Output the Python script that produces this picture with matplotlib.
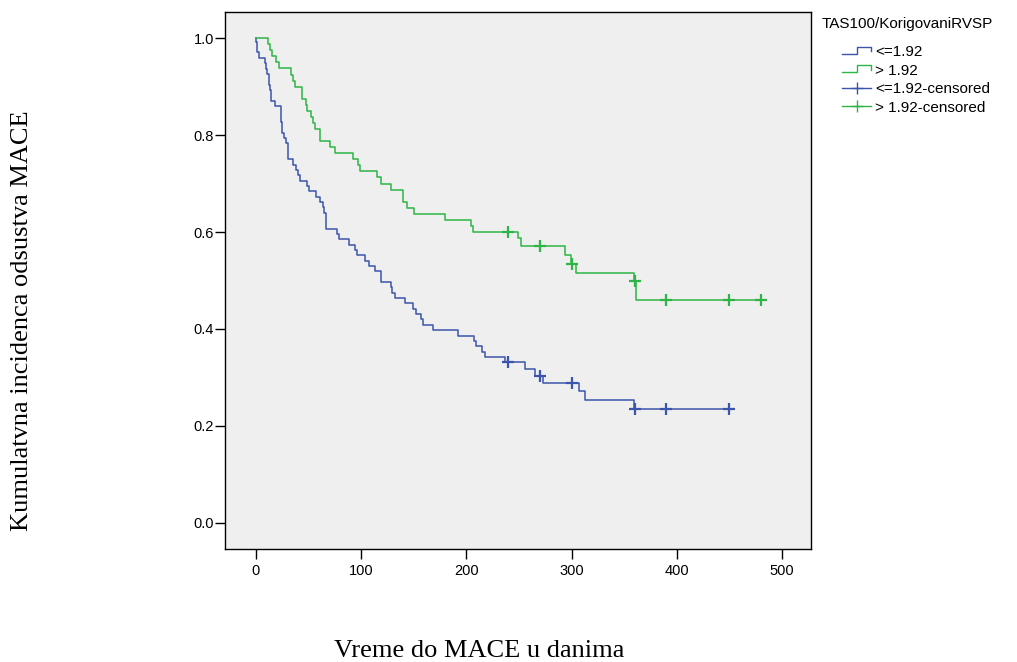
"""Kaplan-Meier style curves of cumulative MACE-free incidence by TAS100/RVSP group."""

import matplotlib
matplotlib.use("Agg")
import matplotlib.pyplot as plt
from matplotlib.legend_handler import HandlerBase
from matplotlib.lines import Line2D

plt.rcParams.update({"font.family": "Liberation Sans", "font.size": 10.5})

# group <=1.92: event times (days) and survival after each event
low_t = [0.3, 0.8, 2.5, 8.2, 9.5, 10.8, 12.0, 12.7, 13.3, 13.9,
         14.6, 18.4, 23.4, 24.7, 26.6, 28.5, 30.5, 35.5, 38.3, 40.0,
         42.0, 48.8, 50.7, 57.0, 60.8, 63.4, 64.6, 66.5, 76.7, 78.6,
         88.7, 94.4, 96.3, 103.9, 107.7, 112.8, 119.1, 128.0, 129.3, 131.8,
         141.8, 149.0, 152.1, 156.8, 159.0, 168.0, 192.0, 207.2, 209.1, 214.8,
         217.4, 237.0, 256.0, 265.5, 272.5, 307.3, 312.4, 359.3]
low_s = [0.993, 0.971, 0.959, 0.948, 0.937, 0.926, 0.915, 0.904, 0.893, 0.882,
         0.871, 0.860, 0.827, 0.805, 0.793, 0.783, 0.750, 0.739, 0.728, 0.717,
         0.706, 0.695, 0.684, 0.673, 0.662, 0.651, 0.640, 0.607, 0.596, 0.585,
         0.574, 0.563, 0.552, 0.541, 0.530, 0.519, 0.497, 0.486, 0.475, 0.464,
         0.453, 0.442, 0.431, 0.420, 0.409, 0.398, 0.386, 0.375, 0.364, 0.353,
         0.342, 0.331, 0.317, 0.303, 0.289, 0.271, 0.253, 0.235]
low_cens_t = [240, 270, 300, 360, 390, 450]
low_cens_s = [0.331, 0.303, 0.289, 0.235, 0.235, 0.235]

# group > 1.92
high_t = [11.4, 13.3, 15.2, 19.0, 21.5, 33.6, 35.5, 36.8, 43.7, 47.5,
          48.8, 52.0, 54.5, 56.5, 60.5, 70.8, 75.4, 91.9, 97.0, 98.9,
          114.7, 118.5, 128.0, 140.0, 143.9, 150.2, 180.0, 204.1, 206.6, 249.0,
          252.0, 293.4, 299.1, 304.2, 359.6, 361.2]
high_s = [0.9875, 0.975, 0.9625, 0.950, 0.9375, 0.925, 0.9125, 0.900, 0.875, 0.8625,
          0.850, 0.8375, 0.825, 0.8125, 0.7875, 0.775, 0.7625, 0.750, 0.7375, 0.725,
          0.7125, 0.700, 0.6875, 0.6625, 0.650, 0.6375, 0.625, 0.6125, 0.600, 0.587,
          0.571, 0.553, 0.535, 0.516, 0.498, 0.459]
high_cens_t = [240, 270, 300, 360, 390, 450, 480]
high_cens_s = [0.600, 0.571, 0.535, 0.498, 0.459, 0.459, 0.459]

x_ticks = [0, 100, 200, 300, 400, 500]
y_ticks = [0.0, 0.2, 0.4, 0.6, 0.8, 1.0]

blue = "#3a55ab"
green = "#2fb545"


class StepHandler(HandlerBase):
    """Legend key drawn as a small step, like the survival curves."""

    def create_artists(self, legend, orig_handle, xdescent, ydescent,
                       width, height, fontsize, trans):
        x0, y0 = -xdescent, -ydescent
        xs = [x0, x0 + 0.5 * width, x0 + 0.5 * width, x0 + width, x0 + width]
        ys = [y0 + 0.2 * height, y0 + 0.2 * height, y0 + 0.85 * height,
              y0 + 0.85 * height, y0 + 0.45 * height]
        ln = Line2D(xs, ys, color=orig_handle.get_color(), lw=1.0)
        ln.set_transform(trans)
        return [ln]


fig = plt.figure(figsize=(10.17, 6.62), dpi=100)
ax = fig.add_axes([0.2212, 0.1707, 0.5762, 0.8112])
ax.set_facecolor("#efefef")

low_line, = ax.step([0] + low_t + [low_cens_t[-1]],
                    [1.0] + low_s + [low_s[-1]],
                    where="post", color=blue, lw=1.1)
high_line, = ax.step([0] + high_t + [high_cens_t[-1]],
                     [1.0] + high_s + [high_s[-1]],
                     where="post", color=green, lw=1.1)
low_c, = ax.plot(low_cens_t, low_cens_s, ls="", marker="+",
                 ms=8, mew=1.6, color=blue)
high_c, = ax.plot(high_cens_t, high_cens_s, ls="", marker="+",
                  ms=8, mew=1.6, color=green)

ax.set_xlim(-29.5, 527.6)
ax.set_ylim(-0.054, 1.054)
ax.set_xticks(x_ticks)
ax.set_yticks(y_ticks)
ax.set_yticklabels([f"{v:.1f}" for v in y_ticks])
ax.tick_params(axis="both", direction="out", length=7, width=1.0, color="black")
ax.tick_params(axis="x", pad=3.5)
ax.tick_params(axis="y", pad=1)
for sp in ax.spines.values():
    sp.set_linewidth(1.0)
    sp.set_color("black")

fig.text(479 / 1017, 1 - 651 / 662, "Vreme do MACE u danima",
         family="Liberation Serif", fontsize=19, ha="center", va="center")
fig.text(22 / 1017, 1 - 321 / 662, "Kumulatvna incidenca odsustva MACE",
         family="Liberation Serif", fontsize=19, rotation=90,
         ha="center", va="center")

fig.text(822 / 1017, 1 - 24 / 662, "TAS100/KorigovaniRVSP",
         fontsize=11, ha="left", va="center")
cens_low = Line2D([], [], color=blue, lw=1.0, marker="+", ms=9, mew=1.0)
cens_high = Line2D([], [], color=green, lw=1.0, marker="+", ms=9, mew=1.0)
fig.legend([low_line, high_line, cens_low, cens_high],
           ["<=1.92", "> 1.92", "<=1.92-censored", "> 1.92-censored"],
           handler_map={low_line: StepHandler(), high_line: StepHandler()},
           loc="upper left", bbox_to_anchor=(842 / 1017, 1 - 45 / 662),
           frameon=False, fontsize=11, handlelength=1.9,
           handletextpad=0.25, labelspacing=0.3, borderpad=0,
           borderaxespad=0, numpoints=1)

fig.savefig("out.png", dpi=100)
